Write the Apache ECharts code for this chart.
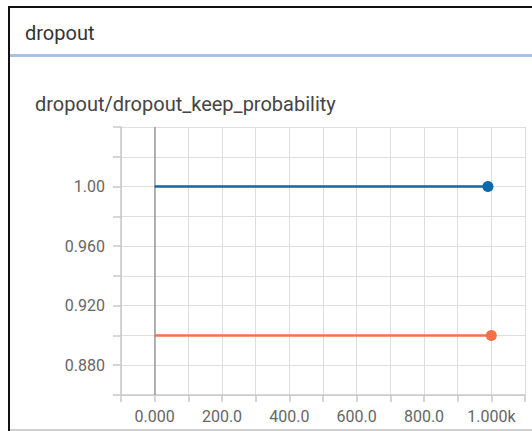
<!DOCTYPE html>
<html>
<head>
<meta charset="utf-8">
<script src="https://cdn.jsdelivr.net/npm/echarts@6/dist/echarts.min.js"></script>
<style>
  html, body { margin: 0; padding: 0; background: #fff; }
  #chart { width: 532px; height: 431px; }
</style>
</head>
<body>
<div id="chart"></div>
<script>
// values
const runNames = ["run_blue", "run_orange"]
const blueSteps = [0, 990]
const blueValues = [1.0, 1.0]
const orangeSteps = [0, 1000]
const orangeValues = [0.9, 0.9]
const xTickLabels = { 0: "0.000", 200: "200.0", 400: "400.0", 600: "600.0", 800: "800.0", 1000: "1.000k" }
const yTickLabels = [0.88, 0.92, 0.96, 1.00]

let chartDom = document.getElementById('chart')
let myChart = echarts.init(chartDom, null, {width: 532, height: 431, renderer: 'svg'})

function pairs(xs, ys) {
    return xs.map((x, i) => [x, ys[i]])
}

function lineSeries(name, data, color) {
    let last = data.length - 1
    return {
        name: name,
        type: 'line',
        data: data,
        symbol: 'circle',
        symbolSize: (v, p) => p.dataIndex === last ? 11 : 0,
        showSymbol: true,
        lineStyle: {color: color, width: 2.5},
        itemStyle: {color: color},
        animation: false,
        z: 3
    }
}

let series = [
    lineSeries(runNames[0], pairs(blueSteps, blueValues), '#0b69ab'),
    lineSeries(runNames[1], pairs(orangeSteps, orangeValues), '#f57148')
]
// darker zero line at step 0
series[0].markLine = {
    silent: true,
    symbol: ['none', 'none'],
    label: {show: false},
    lineStyle: {color: '#9a9a9a', width: 1.5, type: 'solid'},
    data: [{xAxis: 0}],
    z: 2
}

let option = {
    backgroundColor: '#fff',
    animation: false,
    textStyle: {fontFamily: 'Roboto'},
    title: [
        {text: 'dropout', left: 20, top: 18,
            textStyle: {fontSize: 20, fontWeight: 'normal', color: '#333', fontFamily: 'Roboto'}},
        {text: 'dropout/dropout_keep_probability', left: 30, top: 89,
            textStyle: {fontSize: 20, fontWeight: 'normal', color: '#444', fontFamily: 'Roboto'}}
    ],
    graphic: [
        {type: 'rect', shape: {x: 8, y: 6, width: 2, height: 425}, style: {fill: '#111'}, silent: true},
        {type: 'rect', shape: {x: 8, y: 6, width: 524, height: 2}, style: {fill: '#111'}, silent: true},
        {type: 'rect', shape: {x: 10, y: 54, width: 522, height: 3}, style: {fill: '#a6c3e3'}, silent: true},
        {type: 'rect', shape: {x: 10, y: 429, width: 522, height: 2}, style: {fill: '#cfcfcf'}, silent: true}
    ],
    grid: {left: 121, right: 7, top: 127, bottom: 36},
    xAxis: {
        type: 'value',
        min: -100,
        max: 1100,
        interval: 100,
        axisLine: {show: true, onZero: false, lineStyle: {color: '#c8c8c8', width: 1.5}},
        axisTick: {show: true, length: 7, lineStyle: {color: '#c8c8c8', width: 1.5}},
        axisLabel: {
            show: true,
            margin: 13,
            fontSize: 16,
            color: '#666',
            fontFamily: 'Roboto',
            formatter: v => xTickLabels[Math.round(v)] || ''
        },
        splitLine: {show: true, lineStyle: {color: '#dedede', width: 1}}
    },
    yAxis: {
        type: 'value',
        min: 0.86,
        max: 1.04,
        interval: 0.02,
        axisLine: {show: true, onZero: false, lineStyle: {color: '#c8c8c8', width: 1.5}},
        axisTick: {show: true, length: 8, lineStyle: {color: '#c8c8c8', width: 1.5}},
        axisLabel: {
            show: true,
            margin: 16,
            fontSize: 16,
            color: '#666',
            fontFamily: 'Roboto',
            formatter: v => {
                let hit = yTickLabels.find(t => Math.abs(t - v) < 1e-6)
                return hit === undefined ? '' : hit.toPrecision(3)
            }
        },
        splitLine: {show: true, lineStyle: {color: '#dedede', width: 1}}
    },
    series: series
}

myChart.setOption(option)

window.addEventListener('resize', () => {
    myChart.resize()
})
</script>
</body>
</html>
